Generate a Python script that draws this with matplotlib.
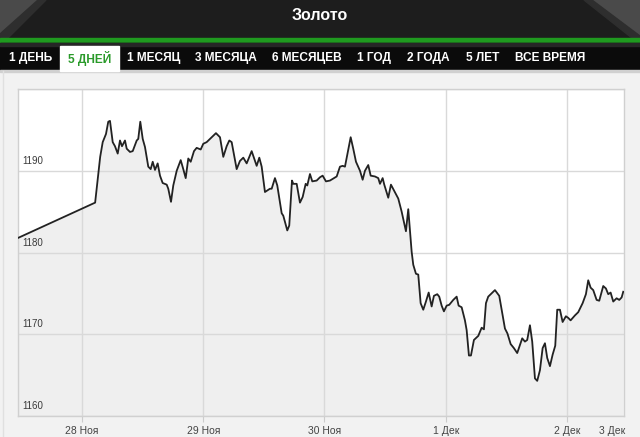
import matplotlib
matplotlib.use("Agg")
import matplotlib.pyplot as plt
from matplotlib.patches import Rectangle, Polygon

# ---- data (hours from 28 Nov 00:00, price) ----
hours = [-12.6, 2.6, 3.6, 4.1, 4.75, 5.2, 5.54, 6.08, 6.53, 7.07, 7.52, 7.92, 8.51, 8.85, 9.5,
         10.04, 10.83, 11.14, 11.54, 12.02, 12.47, 13.12, 13.6, 14.0, 14.45, 14.98, 15.44, 15.97,
         16.77, 17.08, 17.62, 18.07, 18.75, 19.54, 20.05, 20.53, 21.04, 21.52, 22.17, 22.7, 23.5,
         24.01, 24.68, 25.67, 26.52, 27.32, 27.97, 28.64, 29.16, 29.63, 30.62, 31.27, 31.93, 32.6,
         33.59, 34.58, 35.1, 35.57, 36.22, 37.21, 37.55, 38.2, 38.66, 39.53, 39.85, 40.64, 41.03,
         41.57, 41.83, 42.5, 43.15, 43.69, 44.28, 44.6, 45.13, 45.59, 46.46, 47.11, 47.64, 48.3,
         49.09, 50.42, 51.07, 51.6, 52.06, 53.19, 53.7, 54.24, 55.03, 55.56, 56.02, 56.67, 57.15,
         58.0, 58.65, 58.99, 59.52, 59.84, 60.63, 61.16, 61.76, 62.61, 63.28, 64.13, 64.59, 65.26,
         65.58, 66.11, 66.57, 67.04, 67.56, 68.09, 68.63, 69.22, 69.67, 70.33, 70.72, 71.2, 71.65,
         72.19, 72.7, 73.5, 74.17, 74.56, 75.16, 75.81, 76.15, 76.6, 77.0, 77.59, 78.45, 79.12,
         79.57, 79.97, 80.42, 81.1, 81.75, 82.6, 83.08, 83.73, 84.22, 84.86, 85.51, 86.16, 86.7,
         87.15, 87.69, 88.14, 88.68, 89.13, 89.67, 90.12, 90.66, 91.19, 91.65, 92.1, 92.64, 93.17,
         93.69, 94.08, 94.62, 95.15, 95.8, 96.26, 96.73, 97.58, 98.24, 99.11, 99.76, 100.22,
         100.69, 101.21, 101.88, 102.4, 103.19, 103.72, 104.18, 104.65, 105.17, 105.84, 106.36,
         106.83, 107.15]
prices = [1181.8, 1186.1, 1191.7, 1193.5, 1194.5, 1196.0, 1196.1, 1193.5, 1193.0, 1192.1, 1193.7,
          1193.0, 1193.7, 1192.7, 1192.3, 1192.4, 1193.7, 1193.9, 1196.0, 1193.9, 1192.9, 1190.5,
          1190.2, 1191.1, 1190.1, 1190.9, 1189.4, 1188.5, 1188.3, 1187.8, 1186.2, 1188.2, 1190.0,
          1191.3, 1190.2, 1189.1, 1191.5, 1191.1, 1192.4, 1192.8, 1192.6, 1193.3, 1193.5, 1194.1,
          1194.6, 1194.1, 1191.7, 1193.0, 1193.7, 1193.5, 1190.2, 1191.2, 1191.6, 1190.9, 1192.4,
          1190.6, 1191.6, 1190.5, 1187.4, 1187.8, 1187.8, 1189.1, 1188.2, 1184.8, 1184.5, 1182.7,
          1183.3, 1188.8, 1188.4, 1188.4, 1186.1, 1186.8, 1188.4, 1188.2, 1189.6, 1188.7, 1188.8,
          1189.2, 1189.4, 1188.7, 1188.8, 1189.3, 1190.5, 1190.6, 1190.5, 1194.1, 1192.7, 1191.1,
          1190.0, 1188.9, 1190.0, 1190.7, 1189.4, 1189.3, 1189.1, 1188.4, 1189.1, 1188.3, 1186.7,
          1188.3, 1187.6, 1186.6, 1185.0, 1182.6, 1185.3, 1180.1, 1178.5, 1177.4, 1177.3, 1173.8,
          1173.0, 1174.0, 1175.1, 1173.4, 1174.7, 1174.9, 1174.6, 1173.5, 1172.8, 1173.5, 1173.6,
          1174.2, 1174.6, 1173.5, 1173.3, 1171.7, 1170.5, 1167.4, 1167.4, 1169.3, 1169.8, 1170.8,
          1170.6, 1173.8, 1174.6, 1175.0, 1175.4, 1174.7, 1173.0, 1170.7, 1170.1, 1168.8, 1168.3,
          1167.7, 1168.7, 1169.5, 1169.1, 1169.3, 1171.1, 1169.1, 1164.6, 1164.3, 1165.6, 1168.3,
          1168.9, 1167.1, 1166.1, 1167.5, 1168.6, 1173.0, 1173.0, 1171.5, 1172.2, 1172.0, 1171.7,
          1172.3, 1172.7, 1173.8, 1174.9, 1176.6, 1175.7, 1175.4, 1174.2, 1174.1, 1175.9, 1175.6,
          1174.9, 1175.1, 1174.0, 1174.4, 1174.2, 1174.5, 1175.2]

day_ticks = [0, 24, 48, 72, 96]
day_labels = ["28 Ноя", "29 Ноя", "30 Ноя", "1 Дек", "2 Дек"]
extra_label = "3 Дек"
extra_pos = 104.9
y_ticks = [1160, 1170, 1180, 1190, 1200]
y_labels = ["1160", "1170", "1180", "1190", ""]
title = "Золото"
tabs = ["1 ДЕНЬ", "5 ДНЕЙ", "1 МЕСЯЦ", "3 МЕСЯЦА", "6 МЕСЯЦЕВ", "1 ГОД", "2 ГОДА", "5 ЛЕТ", "ВСЕ ВРЕМЯ"]
tab_x = [30.6, 89.8, 153.9, 226.3, 307, 374, 428, 482.6, 550]
active_tab = 1

W, H = 640, 437
fig = plt.figure(figsize=(W / 100, H / 100), dpi=100, facecolor="#f2f2f2")
FAM = ["Liberation Sans", "DejaVu Sans"]

# ---- decoration layer (pixel coords) ----
bg = fig.add_axes([0, 0, 1, 1])
bg.set_xlim(0, W)
bg.set_ylim(H, 0)
bg.axis("off")
bg.add_patch(Rectangle((0, 0), W, 38, color="#1d1d1d", zorder=1))
bg.add_patch(Polygon([(0, 0), (38, 0), (0, 34)], closed=True, color="#4a4a4a", zorder=2))
bg.add_patch(Polygon([(0, 34), (38, 0), (46, 0), (8, 38), (0, 38)], closed=True, color="#2e2e2e", zorder=2))
bg.add_patch(Polygon([(640, 0), (592, 0), (640, 36)], closed=True, color="#4a4a4a", zorder=2))
bg.add_patch(Polygon([(592, 0), (584, 0), (632, 38), (640, 38), (640, 36)], closed=True, color="#2e2e2e", zorder=2))
bg.add_patch(Rectangle((0, 38), W, 5, color="#1f9a1f", zorder=2))
bg.add_patch(Rectangle((0, 43), W, 28, color="#0b0b0b", zorder=2))
bg.add_patch(Rectangle((0, 43), W, 3, color="#262626", zorder=2))
bg.add_patch(Rectangle((0, 70), W, 1.5, color="#d0d0d0", zorder=2))
bg.add_patch(Rectangle((60, 46), 59, 25, color="#ffffff", zorder=3))
bg.plot([3, 3], [71, H], color="#e0e0e0", lw=1, zorder=2)
bg.text(320, 15, title, color="white", fontsize=11.5, fontweight="bold",
        ha="center", va="center", family=FAM, zorder=4)
for i, (t, x) in enumerate(zip(tabs, tab_x)):
    bg.text(x, 58, t, color="#2a9a2a" if i == active_tab else "white", fontsize=8.6,
            fontweight="bold", ha="center", va="center", family=FAM, zorder=4)

# ---- chart ----
ax = fig.add_axes([18 / W, 1 - 416 / H, (624 - 18) / W, (416 - 89) / H])
ax.set_facecolor("white")
ax.set_xlim(-12.67, 107.3)
ax.set_ylim(1160, 1200)
ax.fill_between(hours, prices, 1160, color="#efefef", lw=0, zorder=1)
ax.plot(hours, prices, color="#222222", lw=1.3, zorder=3, solid_joinstyle="round")
for t in day_ticks:
    ax.axvline(t, color="#d9d9d9", lw=1, zorder=2)
for v in y_ticks:
    ax.axhline(v, color="#d9d9d9", lw=1, zorder=2)
for v, lab in zip(y_ticks, y_labels):
    if lab:
        ax.text(-11.8, v + 0.6, lab, fontsize=7, color="#3a3a3a", ha="left", va="bottom",
                family=FAM, zorder=4)
ax.set_yticks([])
ax.set_xticks(day_ticks)
ax.set_xticklabels(day_labels, fontsize=7.5, color="#444444", family=FAM)
ax.tick_params(axis="x", which="major", length=4, color="#cccccc", pad=3)
ax.set_xticks([extra_pos], minor=True)
ax.set_xticklabels([extra_label], minor=True, fontsize=7.5, color="#444444", family=FAM)
ax.tick_params(axis="x", which="minor", length=0, pad=7)
for s in ax.spines.values():
    s.set_color("#d0d0d0")
    s.set_linewidth(1)

fig.savefig("out.png", dpi=100, facecolor=fig.get_facecolor())
